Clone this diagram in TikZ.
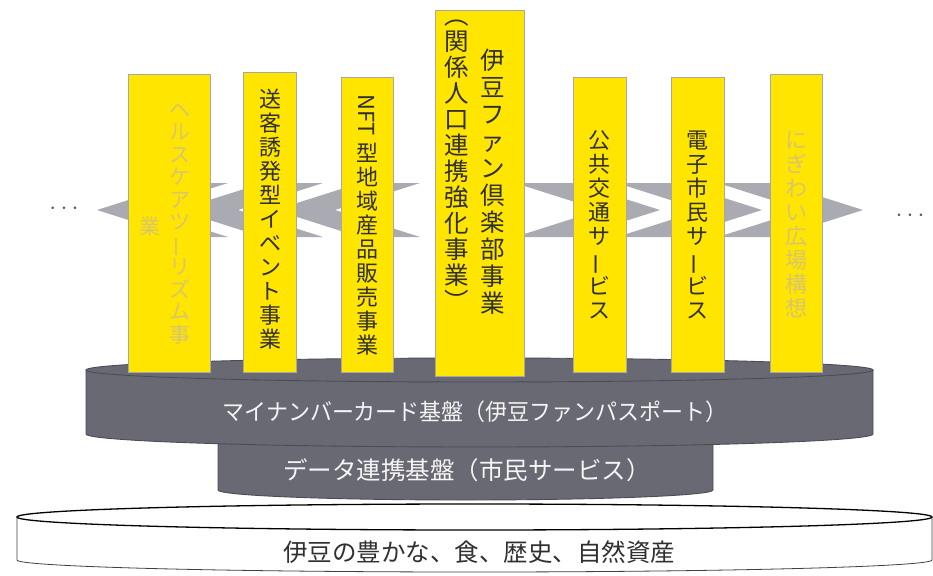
\documentclass[tikz,border=0pt]{standalone}
\usepackage{fontspec}
\usepackage{graphicx}
\newfontfamily\jp{Noto Sans CJK JP}
\definecolor{kiiro}{HTML}{FFE500}
\definecolor{kiwaku}{HTML}{A8A8A0}
\definecolor{yajirushi}{HTML}{A9AAB2}
\definecolor{daiza}{HTML}{696973}
\definecolor{daizawaku}{HTML}{4C4C56}
\definecolor{usuji}{HTML}{D8C56E}
\definecolor{koiji}{HTML}{303030}
\newcommand\nobasu{\rotatebox[origin=c]{90}{ー}}
\newcommand\tatefont{\jp\fontsize{22}{24}\selectfont}
\tikzset{
  hashira/.style={draw=kiwaku,fill=kiiro,line width=.6pt,inner sep=0pt,anchor=north west},
  tate/.style={align=center,inner sep=0pt,text=koiji,font=\tatefont},
  usui/.style={tate,text=usuji},
  yaji/.style={fill=yajirushi},
  ban/.style={fill=daiza,draw=daizawaku,line width=.9pt},
  bantext/.style={inner sep=0pt,text=white!93!daiza},
  tenten/.style={inner sep=0pt,text=black!65,font=\fontsize{36}{38}\selectfont},
}
\begin{document}
\begin{tikzpicture}[x=1pt,y=-1pt]
  \useasboundingbox (0,0) rectangle (933,575);
  \fill[white] (0,0) rectangle (933,575);
  % chevrons
  \foreach \l/\t in {420/275,323/178,228/97}
    \fill[yaji] (\l,183) -- (\t+85,183) -- (\t,210) -- (\t+85,237) -- (\l,237) -- (\l-85,210) -- cycle;
  \foreach \l/\t in {515/660,617/762,718/863}
    \fill[yaji] (\l,183) -- (\t-85,183) -- (\t,210) -- (\t-85,237) -- (\l,237) -- (\l+85,210) -- cycle;
  \node[tenten] (dotsL) at (64,209) {$\cdots$};
  \node[tenten] (dotsR) at (910,216) {$\cdots$};
  % base
  \filldraw[fill=white,draw=black!75,line width=.8pt] (17,517) -- (17,560)
    arc[start angle=180,end angle=0,x radius=457.5,y radius=12] -- (932,517) -- cycle;
  \draw[fill=white,draw=black,line width=1.3pt] (474.5,517) ellipse [x radius=457.5,y radius=13];
  \node[inner sep=0pt,text=koiji,font=\jp\fontsize{24.5}{26}\selectfont] (shigen) at (479,552)
    {伊豆の豊かな、食、歴史、自然資産};
  % data platform
  \filldraw[ban] (218,430) -- (218,490)
    arc[start angle=180,end angle=0,x radius=247.5,y radius=10] -- (713,430) -- cycle;
  \node[bantext,font=\jp\fontsize{24.5}{26}\selectfont] (renkei) at (467,470)
    {データ連携基盤（市民サービス）};
  % card platform
  \filldraw[ban] (86,370) -- (86,434)
    arc[start angle=180,end angle=0,x radius=393.5,y radius=13] -- (873,370) -- cycle;
  \filldraw[ban] (479.5,370) ellipse [x radius=393.5,y radius=12];
  \node[bantext,font=\jp\fontsize{23}{25}\selectfont,xscale=.955] (card) at (475,412)
    {マイナンバーカード基盤（伊豆ファンパスポート）};
  % pillars
  \node[hashira,minimum width=82,minimum height=298] (p1) at (128,74) {};
  \node[hashira,minimum width=53,minimum height=300] (p2) at (243,72) {};
  \node[hashira,minimum width=52,minimum height=295] (p3) at (341,77) {};
  \node[hashira,minimum width=89,minimum height=366] (p4) at (435,10) {};
  \node[hashira,minimum width=53,minimum height=295] (p5) at (573,77) {};
  \node[hashira,minimum width=53,minimum height=295] (p6) at (671,77) {};
  \node[hashira,minimum width=52,minimum height=298] (p7) at (770,74) {};
  \node[usui,font=\jp\fontsize{21}{22.5}\selectfont] (t1) at (180,223.5)
    {ヘ\\ル\\ス\\ケ\\ア\\ツ\\\nobasu\\リ\\ズ\\ム\\事};
  \node[usui,font=\jp\fontsize{21}{22.5}\selectfont] (t1b) at (150,227) {業};
  \node[tate] (t2) at (270,219)
    {送\\客\\誘\\発\\型\\イ\\ベ\\ン\\ト\\事\\業};
  \node[tate,rotate=-90] (t3a) at (367,115) {NFT};
  \node[tate] (t3) at (367,249)
    {型\\地\\域\\産\\品\\販\\売\\事\\業};
  \node[tate,font=\jp\fontsize{24.5}{27}\selectfont] (t4) at (493,182)
    {伊\\豆\\フ\\ァ\\ン\\倶\\楽\\部\\事\\業};
  \node[tate,font=\jp\fontsize{24.5}{26}\selectfont] (t4b) at (457,165)
    {︵\\関\\係\\人\\口\\連\\携\\強\\化\\事\\業\\︶};
  \node[tate] (t5) at (599.5,225)
    {公\\共\\交\\通\\サ\\\nobasu\\ビ\\ス};
  \node[tate] (t6) at (697.5,225)
    {電\\子\\市\\民\\サ\\\nobasu\\ビ\\ス};
  \node[usui] (t7) at (796,225)
    {に\\ぎ\\わ\\い\\広\\場\\構\\想};
\end{tikzpicture}
\end{document}
